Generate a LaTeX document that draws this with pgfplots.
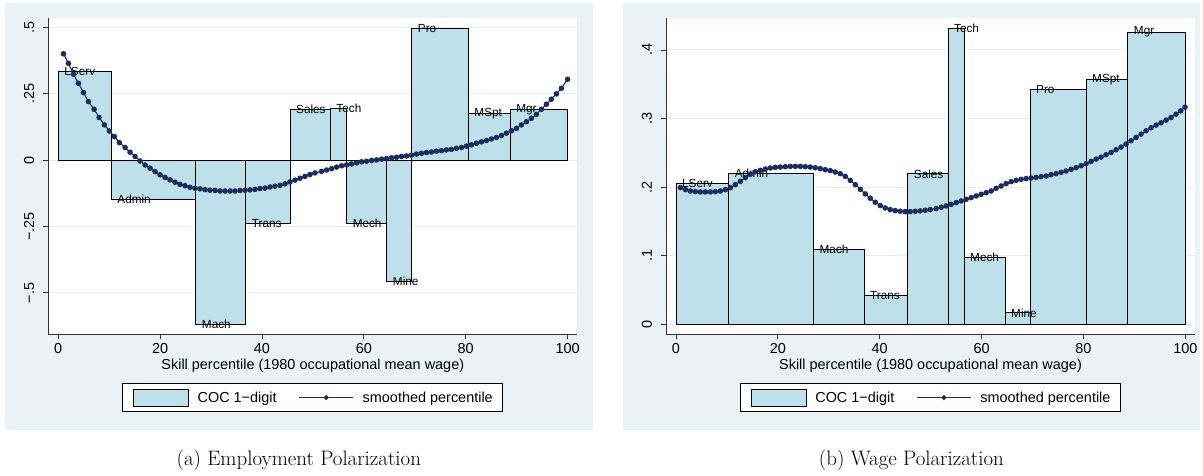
\documentclass[border=0pt]{standalone}
\usepackage{fontspec}
\setsansfont{Liberation Sans}
\usepackage{pgfplots}
\pgfplotsset{compat=1.18}

\definecolor{bgc}{RGB}{234,242,243}
\definecolor{barc}{RGB}{190,224,234}
\definecolor{navyc}{RGB}{28,45,92}
\definecolor{gridc}{RGB}{229,237,240}

\newcommand{\statafont}{\sffamily\fontsize{14.5}{16}\selectfont}

\pgfplotsset{
  stata/.style={
    scale only axis,
    width=529bp, height=316bp,
    xmin=-1.95, xmax=101.9,
    axis x line*=bottom, axis y line*=left,
    axis line style={black!80, line width=0.8bp},
    tick align=outside,
    major tick length=5.5bp,
    tick style={black!80, line width=0.8bp},
    xtick={0,20,40,60,80,100},
    xticklabels={0,20,40,60,80,100},
    ymajorgrids,
    major grid style={gridc, line width=0.9bp},
    axis background/.style={fill=white},
    tick label style={font=\statafont, black},
    yticklabel style={xshift=-5bp, rotate=90, anchor=south},
    xlabel={Skill percentile (1980 occupational mean wage)},
    xlabel style={font=\statafont, at={(axis description cs:0.5,-0.101)}, anchor=center},
    clip=false,
    legend columns=2,
    legend style={
      at={(0.5,-0.156)}, anchor=north,
      draw=black, line width=0.8bp, fill=white,
      inner xsep=10bp, inner ysep=5bp,
      font=\statafont,
      nodes={inner xsep=0pt},
      /tikz/every odd column/.append style={column sep=9bp},
      /tikz/every even column/.append style={column sep=22bp},
    },
    legend cell align=left,
  },
  bars/.style={
    ybar interval, fill=barc, draw=black, line width=0.8bp,
    legend image code/.code={
      \draw[fill=barc, draw=black, line width=0.8bp] (0bp,-8.5bp) rectangle (55bp,8.5bp);
    },
  },
  smooth curve/.style={
    color=navyc, line width=1.1bp, mark=*, mark size=2.2bp,
    mark options={fill=navyc, draw=navyc},
    legend image code/.code={
      \draw[navyc, line width=1bp] (0bp,0bp) -- (54bp,0bp);
      \fill[navyc] (27bp,0bp) circle (1.9bp);
    },
  },
  occ labels/.style={
    forget plot, only marks, mark=none,
    nodes near coords, point meta=explicit symbolic,
    nodes near coords style={font=\sffamily\fontsize{11.8}{13}\selectfont,
      anchor=west, inner sep=0pt, xshift=6bp, black},
  },
}

\begin{document}
\begin{tikzpicture}[x=1bp,y=1bp]
\useasboundingbox (0,0) rectangle (1203,476);
\fill[bgc] (5,46) rectangle (592.7,472.7);
\fill[bgc] (622.7,46) rectangle (1200,472.7);

% Employment change by 1-digit occupation
\begin{axis}[stata, at={(48.3bp,142bp)}, anchor=south west,
  ymin=-0.655, ymax=0.536,
  ytick={-0.5,-0.25,0,0.25,0.5},
  yticklabels={−.5,−.25,0,.25,.5}]
\addplot[bars] table[x=x, y=y] {
x y
0 0.334
10.4 -0.147
27.0 -0.619
36.8 -0.240
45.5 0.190
53.4 0.195
56.6 -0.239
64.5 -0.457
69.4 0.497
80.5 0.177
88.7 0.192
100 0
};
\addlegendentry{COC 1−digit}
\addplot[occ labels] table[x=x, y=y, meta=lab] {
x y lab
0 0.334 LServ
10.4 -0.147 Admin
27.0 -0.619 Mach
36.8 -0.240 Trans
45.5 0.190 Sales
53.4 0.195 Tech
56.6 -0.239 Mech
64.5 -0.457 Mine
69.4 0.497 Pro
80.5 0.177 MSpt
88.7 0.192 Mgr
};
\addplot[smooth curve] table[x=x, y=y] {
x y
1.03 0.401
2.01 0.365
2.99 0.324
3.97 0.290
4.95 0.255
5.93 0.221
7.04 0.192
8.02 0.161
9.07 0.133
10.05 0.110
11.03 0.089
12.01 0.066
13.12 0.048
14.10 0.030
15.08 0.014
16.06 -0.003
17.05 -0.018
18.03 -0.030
19.00 -0.043
19.99 -0.055
20.97 -0.065
21.95 -0.074
22.93 -0.083
23.91 -0.091
24.89 -0.096
25.87 -0.102
26.86 -0.106
27.84 -0.108
28.82 -0.111
29.80 -0.113
30.78 -0.114
31.76 -0.116
32.74 -0.116
33.72 -0.116
34.70 -0.116
35.69 -0.114
36.67 -0.113
37.65 -0.112
38.63 -0.110
39.61 -0.107
40.59 -0.105
41.57 -0.101
42.55 -0.098
43.53 -0.095
44.52 -0.089
45.50 -0.082
46.48 -0.075
47.46 -0.068
48.44 -0.061
49.42 -0.054
50.40 -0.048
51.70 -0.042
52.68 -0.037
53.66 -0.032
54.64 -0.026
55.62 -0.021
56.60 -0.018
57.58 -0.014
58.56 -0.010
59.54 -0.006
60.53 -0.004
61.51 -0.001
62.49 0.001
63.47 0.004
64.45 0.006
65.43 0.009
66.41 0.011
67.39 0.014
68.37 0.016
69.35 0.019
70.33 0.023
71.31 0.026
72.29 0.029
73.27 0.031
74.25 0.034
75.23 0.036
76.21 0.039
77.19 0.041
78.18 0.045
79.16 0.048
80.14 0.053
81.12 0.058
82.10 0.064
83.08 0.069
84.06 0.074
85.04 0.080
86.02 0.086
87.00 0.093
87.99 0.102
88.97 0.111
89.95 0.120
90.93 0.133
91.91 0.145
92.89 0.158
93.87 0.173
94.85 0.192
95.83 0.211
96.81 0.230
97.79 0.250
98.77 0.271
100.00 0.305
};
\addlegendentry{smoothed percentile}
\end{axis}

% Wage change by 1-digit occupation
\begin{axis}[stata, at={(666bp,142bp)}, anchor=south west,
  ymin=-0.0138, ymax=0.4465,
  ytick={0,0.1,0.2,0.3,0.4},
  yticklabels={0,.1,.2,.3,.4}]
\addplot[bars] table[x=x, y=y] {
x y
0 0.206
10.35 0.220
27.0 0.110
36.9 0.0425
45.5 0.2195
53.4 0.431
56.55 0.0975
64.6 0.017
69.5 0.342
80.5 0.357
88.7 0.426
100 0
};
\addlegendentry{COC 1−digit}
\addplot[occ labels] table[x=x, y=y, meta=lab] {
x y lab
0 0.206 LServ
10.35 0.220 Admin
27.0 0.110 Mach
36.9 0.0425 Trans
45.5 0.2195 Sales
53.4 0.431 Tech
56.55 0.0975 Mech
64.6 0.017 Mine
69.5 0.342 Pro
80.5 0.357 MSpt
88.7 0.426 Mgr
};
\addplot[smooth curve] table[x=x, y=y] {
x y
0.88 0.1994
1.86 0.1965
2.84 0.1945
3.82 0.1936
4.80 0.1931
5.78 0.1931
6.77 0.1931
7.75 0.1936
8.73 0.1945
9.71 0.1965
10.69 0.1994
11.67 0.2037
12.65 0.2086
13.63 0.2139
14.61 0.2188
15.59 0.2226
16.57 0.2246
17.55 0.2265
18.53 0.2280
19.51 0.2289
20.50 0.2294
21.48 0.2299
22.46 0.2304
23.44 0.2304
24.42 0.2304
25.40 0.2299
26.38 0.2294
27.36 0.2284
28.34 0.2270
29.32 0.2255
30.30 0.2241
31.28 0.2221
32.26 0.2197
33.24 0.2158
34.23 0.2100
35.21 0.2037
36.19 0.1969
37.17 0.1902
38.15 0.1839
39.13 0.1781
40.11 0.1732
41.09 0.1698
42.07 0.1674
43.05 0.1659
44.03 0.1650
45.01 0.1645
45.99 0.1645
46.98 0.1650
47.96 0.1655
48.94 0.1664
49.92 0.1674
51.09 0.1688
52.07 0.1708
53.05 0.1727
54.03 0.1751
55.02 0.1776
56.00 0.1800
56.98 0.1824
57.96 0.1848
58.94 0.1873
59.92 0.1897
60.90 0.1921
61.88 0.1945
62.86 0.1984
63.84 0.2018
64.82 0.2052
65.80 0.2081
66.79 0.2100
67.77 0.2115
68.75 0.2125
69.73 0.2134
70.71 0.2144
71.69 0.2154
72.67 0.2163
73.65 0.2183
74.63 0.2197
75.61 0.2217
76.59 0.2236
77.58 0.2260
78.56 0.2284
79.54 0.2313
80.52 0.2343
81.50 0.2376
82.48 0.2410
83.46 0.2439
84.44 0.2473
85.42 0.2507
86.40 0.2546
87.38 0.2585
88.36 0.2628
89.35 0.2677
90.33 0.2725
91.31 0.2774
92.29 0.2822
93.27 0.2866
94.25 0.2905
95.23 0.2939
96.21 0.2977
97.19 0.3016
98.17 0.3064
99.10 0.3113
99.94 0.3166
};
\addlegendentry{smoothed percentile}
\end{axis}

\node[font=\fontsize{21}{25}\selectfont] at (298.8,16) {(a) Employment Polarization};
\node[font=\fontsize{21}{25}\selectfont] at (911.4,16) {(b) Wage Polarization};
\end{tikzpicture}
\end{document}
